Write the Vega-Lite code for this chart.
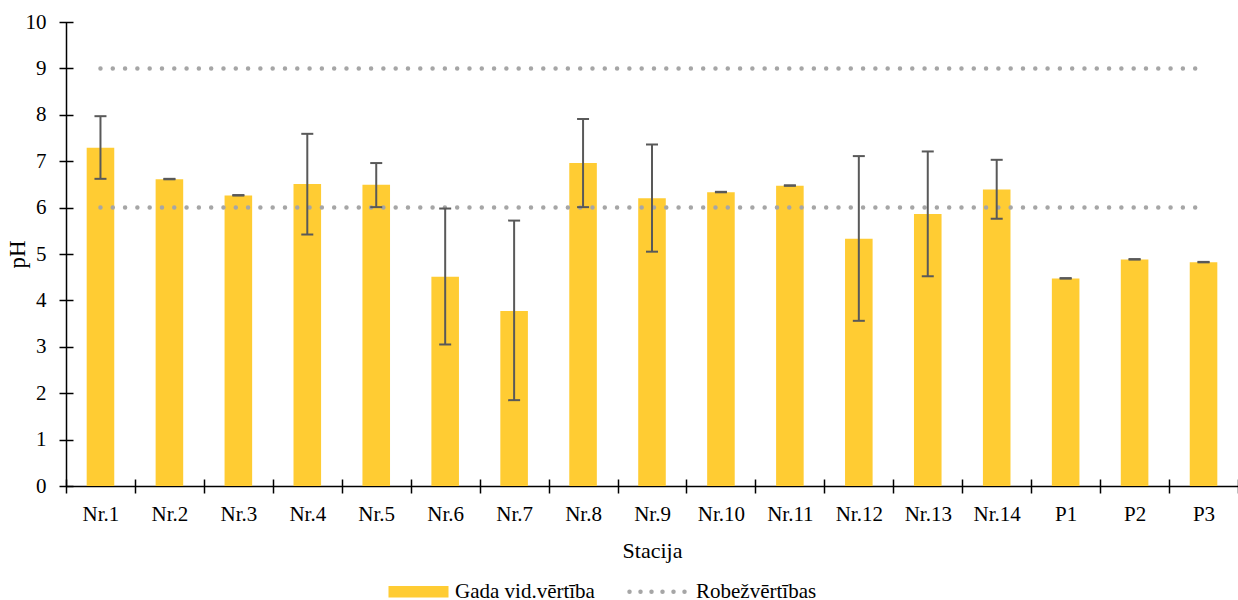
{
  "$schema": "https://vega.github.io/schema/vega-lite/v6.json",
  "width": 1172,
  "height": 464,
  "autosize": {"type": "none"},
  "padding": {"left": 66, "top": 22, "right": 0, "bottom": 114},
  "background": "white",
  "config": {
    "view": {"stroke": null},
    "font": "Liberation Serif, Times New Roman, serif"
  },
  "datasets": {
    "ph": [
      {"station": "Nr.1", "mean": 7.29, "low": 6.62, "high": 7.97},
      {"station": "Nr.2", "mean": 6.61, "low": 6.61, "high": 6.62},
      {"station": "Nr.3", "mean": 6.26, "low": 6.26, "high": 6.27},
      {"station": "Nr.4", "mean": 6.51, "low": 5.42, "high": 7.59},
      {"station": "Nr.5", "mean": 6.49, "low": 6.01, "high": 6.96},
      {"station": "Nr.6", "mean": 4.51, "low": 3.05, "high": 5.98},
      {"station": "Nr.7", "mean": 3.77, "low": 1.85, "high": 5.72},
      {"station": "Nr.8", "mean": 6.96, "low": 6.01, "high": 7.91},
      {"station": "Nr.9", "mean": 6.2, "low": 5.05, "high": 7.36},
      {"station": "Nr.10", "mean": 6.33, "low": 6.33, "high": 6.34},
      {"station": "Nr.11", "mean": 6.47, "low": 6.47, "high": 6.48},
      {"station": "Nr.12", "mean": 5.33, "low": 3.56, "high": 7.11},
      {"station": "Nr.13", "mean": 5.86, "low": 4.52, "high": 7.21},
      {"station": "Nr.14", "mean": 6.39, "low": 5.76, "high": 7.03},
      {"station": "P1", "mean": 4.47, "low": 4.47, "high": 4.48},
      {"station": "P2", "mean": 4.88, "low": 4.88, "high": 4.89},
      {"station": "P3", "mean": 4.82, "low": 4.82, "high": 4.83}
    ],
    "limits": [
      {"station": "Nr.1", "limit": 6, "level": "lower"},
      {"station": "Nr.2", "limit": 6, "level": "lower"},
      {"station": "Nr.3", "limit": 6, "level": "lower"},
      {"station": "Nr.4", "limit": 6, "level": "lower"},
      {"station": "Nr.5", "limit": 6, "level": "lower"},
      {"station": "Nr.6", "limit": 6, "level": "lower"},
      {"station": "Nr.7", "limit": 6, "level": "lower"},
      {"station": "Nr.8", "limit": 6, "level": "lower"},
      {"station": "Nr.9", "limit": 6, "level": "lower"},
      {"station": "Nr.10", "limit": 6, "level": "lower"},
      {"station": "Nr.11", "limit": 6, "level": "lower"},
      {"station": "Nr.12", "limit": 6, "level": "lower"},
      {"station": "Nr.13", "limit": 6, "level": "lower"},
      {"station": "Nr.14", "limit": 6, "level": "lower"},
      {"station": "P1", "limit": 6, "level": "lower"},
      {"station": "P2", "limit": 6, "level": "lower"},
      {"station": "P3", "limit": 6, "level": "lower"},
      {"station": "Nr.1", "limit": 9, "level": "upper"},
      {"station": "Nr.2", "limit": 9, "level": "upper"},
      {"station": "Nr.3", "limit": 9, "level": "upper"},
      {"station": "Nr.4", "limit": 9, "level": "upper"},
      {"station": "Nr.5", "limit": 9, "level": "upper"},
      {"station": "Nr.6", "limit": 9, "level": "upper"},
      {"station": "Nr.7", "limit": 9, "level": "upper"},
      {"station": "Nr.8", "limit": 9, "level": "upper"},
      {"station": "Nr.9", "limit": 9, "level": "upper"},
      {"station": "Nr.10", "limit": 9, "level": "upper"},
      {"station": "Nr.11", "limit": 9, "level": "upper"},
      {"station": "Nr.12", "limit": 9, "level": "upper"},
      {"station": "Nr.13", "limit": 9, "level": "upper"},
      {"station": "Nr.14", "limit": 9, "level": "upper"},
      {"station": "P1", "limit": 9, "level": "upper"},
      {"station": "P2", "limit": 9, "level": "upper"},
      {"station": "P3", "limit": 9, "level": "upper"}
    ]
  },
  "resolve": {"axis": {"x": "independent", "y": "independent"}},
  "layer": [
    {
      "data": {"name": "ph"},
      "mark": {"type": "bar", "width": {"band": 0.4}},
      "encoding": {
        "x": {
          "field": "station", "type": "nominal", "sort": null,
          "scale": {"paddingInner": 0, "paddingOuter": 0},
          "axis": {
            "orient": "bottom", "offset": -7, "domain": false, "tickBand": "extent",
            "tickSize": 14, "tickWidth": 1.5, "tickColor": "#000",
            "labelAngle": 0, "labelFont": "Liberation Serif, Times New Roman, serif", "labelFontSize": 21, "labelColor": "#000",
            "labelPadding": 10,
            "title": "Stacija", "titleFont": "Liberation Serif, Times New Roman, serif", "titleFontSize": 22, "titleFontWeight": "normal", "titleColor": "#000", "titlePadding": 16
          }
        },
        "y": {
          "field": "mean", "type": "quantitative",
          "scale": {"domain": [0, 10], "nice": false},
          "axis": {
            "orient": "left", "offset": -7, "domain": false, "grid": false,
            "values": [0, 1, 2, 3, 4, 5, 6, 7, 8, 9, 10],
            "tickSize": 14, "tickWidth": 1.5, "tickColor": "#000",
            "labelFont": "Liberation Serif, Times New Roman, serif", "labelFontSize": 21, "labelColor": "#000", "labelPadding": 13,
            "title": "pH", "titleFont": "Liberation Serif, Times New Roman, serif", "titleFontSize": 23, "titleFontWeight": "normal", "titleColor": "#000", "titlePadding": -4
          }
        },
        "color": {
          "datum": "Gada vid.vērtība",
          "scale": {"domain": ["Gada vid.vērtība", "Robežvērtības"], "range": ["#ffcc33", "#a6a6a6"]},
          "legend": {
            "orient": "none", "legendX": 342, "legendY": 559,
            "direction": "horizontal", "title": null,
            "symbolSize": 3600, "symbolOpacity": 1,
            "labelFont": "Liberation Serif, Times New Roman, serif", "labelFontSize": 21, "labelColor": "#000", "labelOffset": 26,
            "columnPadding": 25,
            "encode": {
              "symbols": {
                "update": {
                  "shape": {"signal": "datum.value === 'Gada vid.vērtība' ? 'M-1,-0.19H1V0.19H-1Z' : 'stroke'"},
                  "fill": {"signal": "datum.value === 'Gada vid.vērtība' ? '#ffcc33' : 'transparent'"},
                  "stroke": {"signal": "datum.value === 'Gada vid.vērtība' ? 'transparent' : '#a6a6a6'"},
                  "strokeWidth": {"signal": "datum.value === 'Gada vid.vērtība' ? 0 : 4.5"},
                  "strokeDash": {"signal": "datum.value === 'Gada vid.vērtība' ? [] : [0, 11]"},
                  "strokeCap": {"value": "round"},
                  "opacity": {"value": 1}
                }
              }
            }
          }
        }
      }
    },
    {
      "data": {"name": "limits"},
      "mark": {"type": "line", "strokeWidth": 4.5, "strokeDash": [0, 12.3], "strokeCap": "round"},
      "encoding": {
        "x": {"field": "station", "type": "nominal", "sort": null,
          "axis": {"orient": "bottom", "domain": true, "domainColor": "#000", "domainWidth": 1.5, "ticks": false, "labels": false, "title": null}},
        "y": {"field": "limit", "type": "quantitative",
          "axis": {"orient": "left", "domain": true, "domainColor": "#000", "domainWidth": 1.5, "ticks": false, "labels": false, "grid": false, "title": null}},
        "detail": {"field": "level"},
        "color": {"datum": "Robežvērtības"}
      }
    },
    {
      "data": {"name": "ph"},
      "mark": {"type": "rule", "color": "#595959", "strokeWidth": 2},
      "encoding": {
        "x": {"field": "station", "type": "nominal", "sort": null, "axis": null},
        "y": {"field": "low", "type": "quantitative", "axis": null},
        "y2": {"field": "high"}
      }
    },
    {
      "data": {"name": "ph"},
      "mark": {"type": "tick", "color": "#595959", "thickness": 2, "size": 12, "opacity": 1},
      "encoding": {
        "x": {"field": "station", "type": "nominal", "sort": null, "axis": null},
        "y": {"field": "low", "type": "quantitative", "axis": null}
      }
    },
    {
      "data": {"name": "ph"},
      "mark": {"type": "tick", "color": "#595959", "thickness": 2, "size": 12, "opacity": 1},
      "encoding": {
        "x": {"field": "station", "type": "nominal", "sort": null, "axis": null},
        "y": {"field": "high", "type": "quantitative", "axis": null}
      }
    }
  ]
}
